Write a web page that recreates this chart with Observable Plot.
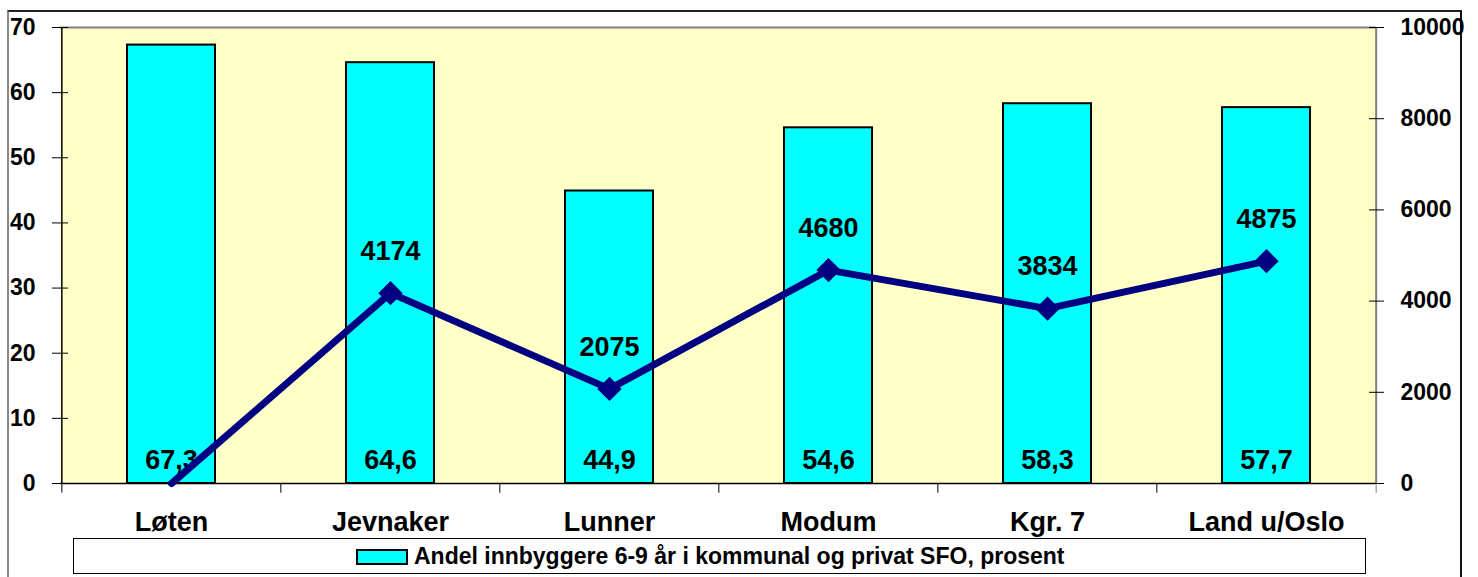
<!DOCTYPE html>
<html>
<head>
<meta charset="utf-8">
<script src="https://cdn.jsdelivr.net/npm/d3@7"></script>
<script src="https://cdn.jsdelivr.net/npm/@observablehq/plot@0.6"></script>
<style>
  html, body { margin: 0; padding: 0; background: #fff; }
  body { width: 1478px; height: 577px; position: relative; overflow: hidden;
         font-family: "Liberation Sans Narrow", "Arial Narrow", "Liberation Sans", Arial, sans-serif; font-weight: bold; }
  #outer { position: absolute; left: 7px; top: 10px; width: 1455px; height: 600px;
           border-top: 2px solid #222; border-left: 2px solid #888; border-right: 2px solid #111; box-sizing: border-box; }
  #chart { position: absolute; left: 0; top: 0; }
  #legend { position: absolute; left: 73px; top: 538px; width: 1293px; height: 36px; box-sizing: border-box;
            border: 1px solid #000; background: #fff; }
  #legend .sw { position: absolute; left: 282px; top: 10px; width: 52px; height: 16px; box-sizing: border-box;
                background: #00FFFF; border: 2px solid #000; }
  #legend .lb { position: absolute; left: 340px; top: 3px; font-size: 23px; line-height: 28px; color: #000; white-space: nowrap; }
</style>
</head>
<body>
<div id="outer"></div>
<div id="chart"></div>
<div id="legend"><div class="sw"></div><div class="lb" id="legendText"></div></div>
<script>
const categories = ["Løten", "Jevnaker", "Lunner", "Modum", "Kgr. 7", "Land u/Oslo"];
const sfoShare = [67.3, 64.6, 44.9, 54.6, 58.3, 57.7];
const lineSeries = [0, 4174, 2075, 4680, 3834, 4875];
const leftTicks = [0, 10, 20, 30, 40, 50, 60, 70];
const rightTicks = [0, 2000, 4000, 6000, 8000, 10000];
const legendLabel = "Andel innbyggere 6-9 år i kommunal og privat SFO, prosent";

const leftMax = 70, rightMax = 10000;
const toLeft = v => v * leftMax / rightMax;

const W = 1478, H = 577;
const mL = 60, mR = 102, mT = 27, mB = 94;
const step = (W - mL - mR) / categories.length;

const bars = categories.map((c, i) => ({cat: c, v: sfoShare[i]}));
const pts = categories.map((c, i) => ({cat: c, v: lineSeries[i], y: toLeft(lineSeries[i])}));
const shown = pts.filter(d => d.v > 0);

const font = `"Liberation Sans Narrow", "Arial Narrow", "Liberation Sans", Arial, sans-serif`;

const chart = Plot.plot({
  width: W, height: H,
  marginLeft: mL, marginRight: mR, marginTop: mT, marginBottom: mB,
  style: {fontFamily: font, fontWeight: "bold", background: "transparent", overflow: "visible", color: "#000"},
  x: {domain: categories, paddingInner: 0.6, paddingOuter: 0.3, axis: null},
  y: {domain: [0, leftMax], axis: null},
  marks: [
    Plot.frame({fill: "#FFFFC8", stroke: null}),
    Plot.ruleY([leftMax], {stroke: "#808080", strokeWidth: 2}),
    Plot.ruleX([categories[categories.length - 1]], {dx: step / 2, stroke: "#808080", strokeWidth: 2}),
    Plot.barY(bars, {x: "cat", y: "v", fill: "#00FFFF", stroke: "#000", strokeWidth: 2}),
    Plot.ruleX([categories[0]], {dx: -step / 2, stroke: "#000", strokeWidth: 1.5}),
    Plot.ruleY([0], {stroke: "#000", strokeWidth: 1.5}),
    // category boundary ticks
    Plot.ruleX(categories, {x: d => d, y1: 0, y2: -1.5, dx: -step / 2, stroke: "#000"}),
    Plot.ruleX([categories[categories.length - 1]], {x: d => d, y1: 0, y2: -1.5, dx: step / 2, stroke: "#808080"}),
    // left axis
    Plot.axisY(leftTicks, {anchor: "left", tickSize: 16, dx: 8, tickFormat: () => "", stroke: "#000"}),
    Plot.axisY(leftTicks, {anchor: "left", tickSize: 0, tickPadding: 25, fontSize: 23, fontWeight: "bold", fill: "#000"}),
    // right axis
    Plot.axisY(rightTicks.map(toLeft), {anchor: "right", tickSize: 15, dx: -8, tickFormat: () => "", stroke: "#000"}),
    Plot.axisY(rightTicks.map(toLeft), {anchor: "right", tickSize: 0, tickPadding: 24, fontSize: 23, fontWeight: "bold", fill: "#000",
      tickFormat: d => String(Math.round(d * rightMax / leftMax))}),
    // category labels
    Plot.text(categories, {x: d => d, frameAnchor: "bottom", dy: 39, lineAnchor: "middle", fontSize: 27, fontWeight: "bold", fill: "#000"}),
    // bar value labels
    Plot.text(bars, {x: "cat", frameAnchor: "bottom", dy: -23, lineAnchor: "middle", text: d => d.v.toFixed(1).replace(".", ","),
      fontSize: 27, fontWeight: "bold", fill: "#000"}),
    // line
    Plot.line(pts, {x: "cat", y: "y", stroke: "#000080", strokeWidth: 7}),
    Plot.dot(shown, {x: "cat", y: "y", symbol: "diamond2", r: 10, fill: "#000080", stroke: "#000080"}),
    Plot.text(shown, {x: "cat", y: "y", dy: -42, lineAnchor: "middle", text: d => String(d.v), fontSize: 27, fontWeight: "bold", fill: "#000"})
  ]
});
document.getElementById("chart").appendChild(chart);
document.getElementById("legendText").textContent = legendLabel;
</script>
</body>
</html>
